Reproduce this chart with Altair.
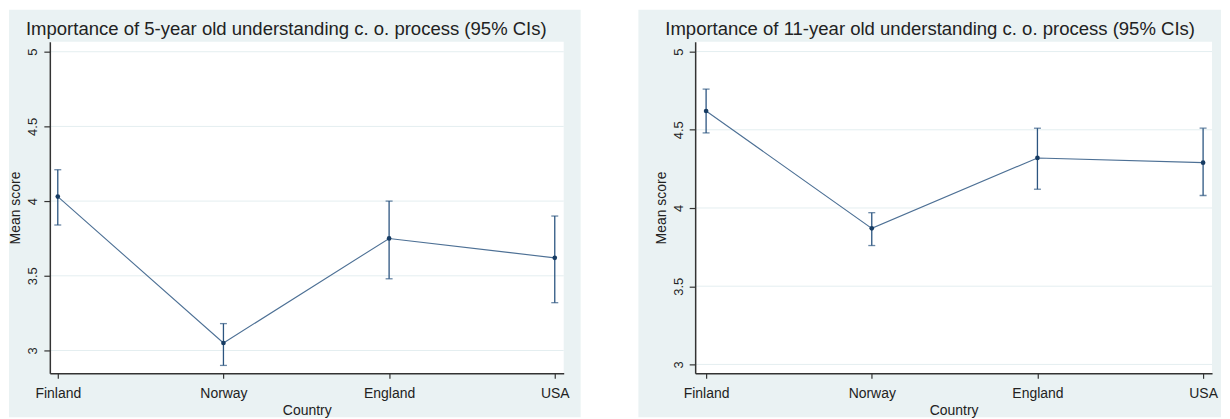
import json
import altair as alt
import pandas as pd

# ---- data ----
countries = ["Finland", "Norway", "England", "USA"]
country_idx = [1, 2, 3, 4]
y_ticks = [3, 3.5, 4, 4.5, 5]

title5 = "Importance of 5-year old understanding c. o. process (95% CIs)"
mean5 = [4.03, 3.05, 3.75, 3.62]
lo5 = [3.84, 2.90, 3.48, 3.32]
hi5 = [4.21, 3.18, 4.00, 3.90]

title11 = "Importance of 11-year old understanding c. o. process (95% CIs)"
mean11 = [4.62, 3.87, 4.32, 4.29]
lo11 = [4.48, 3.76, 4.12, 4.08]
hi11 = [4.76, 3.97, 4.51, 4.51]

FONT = "Liberation Sans, Arial, sans-serif"
BG = "#EAF2F3"
LINE = "#4d7095"
ERR = "#2c5580"
DOT = "#173c63"
TXT = "#222222"

label_expr = f"{json.dumps(countries)}[datum.value - 1]"


def panel(title, mean, lo, hi, xdom, ydom, width, height, title_dx, bg_box):
    df = pd.DataFrame({"idx": country_idx, "country": countries,
                       "mean": mean, "lo": lo, "hi": hi})
    grid_df = pd.DataFrame({"g": y_ticks})
    one = pd.DataFrame({"a": [0]})

    xscale = alt.Scale(domain=xdom, nice=False, zero=False)
    yscale = alt.Scale(domain=ydom, nice=False, zero=False)
    xaxis = alt.Axis(values=country_idx, labelExpr=label_expr, title="Country",
                     grid=False, zindex=1, domainColor="#333333", domainWidth=1.5,
                     tickColor="#333333", tickSize=5, tickWidth=1.2,
                     labelFont=FONT, labelFontSize=14, labelColor=TXT, labelPadding=8,
                     titleFont=FONT, titleFontSize=14, titleColor=TXT,
                     titleFontWeight="normal", titlePadding=3)
    yaxis = alt.Axis(values=y_ticks, format="~g", title="Mean score", grid=False,
                     zindex=1, domainColor="#333333", domainWidth=1.5,
                     tickColor="#333333", tickSize=6, tickWidth=1.2,
                     labelAngle=270, labelFont=FONT, labelFontSize=13,
                     labelColor=TXT, labelPadding=4,
                     titleFont=FONT, titleFontSize=14, titleColor=TXT,
                     titleFontWeight="normal", titlePadding=4)

    x = alt.X("idx:Q", scale=xscale, axis=xaxis)

    bx0, bx1, by0, by1 = bg_box
    bg = alt.Chart(one).mark_rect(color=BG, clip=False).encode(
        x=alt.value(bx0), x2=alt.value(bx1), y=alt.value(by0), y2=alt.value(by1))
    plotbg = alt.Chart(one).mark_rect(color="white").encode(
        x=alt.value(0), x2=alt.value(width), y=alt.value(0), y2=alt.value(height))
    grid = alt.Chart(grid_df).mark_rule(color="#E4EEF0", strokeWidth=1).encode(
        y=alt.Y("g:Q", scale=yscale, axis=yaxis),
        x=alt.value(0), x2=alt.value(width))
    base = alt.Chart(df)
    bars = base.mark_rule(color=ERR, strokeWidth=1.3).encode(
        x=x, y=alt.Y("lo:Q", scale=yscale, axis=yaxis), y2="hi:Q")
    cap_lo = base.mark_tick(color=ERR, orient="horizontal", size=7, thickness=1.3).encode(
        x=x, y=alt.Y("lo:Q", scale=yscale, axis=yaxis))
    cap_hi = base.mark_tick(color=ERR, orient="horizontal", size=7, thickness=1.3).encode(
        x=x, y=alt.Y("hi:Q", scale=yscale, axis=yaxis))
    line = base.mark_line(color=LINE, strokeWidth=1.1).encode(
        x=x, y=alt.Y("mean:Q", scale=yscale, axis=yaxis))
    pts = base.mark_point(filled=True, shape="circle", size=22, color=DOT, opacity=1).encode(
        x=x, y=alt.Y("mean:Q", scale=yscale, axis=yaxis))

    return alt.layer(bg, plotbg, grid, bars, cap_lo, cap_hi, line, pts).properties(
        width=width, height=height,
        title=alt.TitleParams(title, anchor="start", frame="group", dx=title_dx,
                              offset=-44, baseline="alphabetic", font=FONT,
                              fontSize=18.6, fontWeight="normal", color=TXT))


left = panel(title5, mean5, lo5, hi5, [0.952, 4.054], [2.847, 5.067],
             516, 333, -24, (-41, 533, -32, 377))
right = panel(title11, mean11, lo11, hi11, [0.934, 4.054], [2.943, 5.063],
              519, 333, -30, (-57, 528, -32, 377))

chart = alt.hconcat(left, right, spacing=132, bounds="flush").properties(
    padding=0, background="white"
).configure_view(stroke="transparent")

chart.save("out.html", embed_options={"renderer": "svg", "actions": False})
